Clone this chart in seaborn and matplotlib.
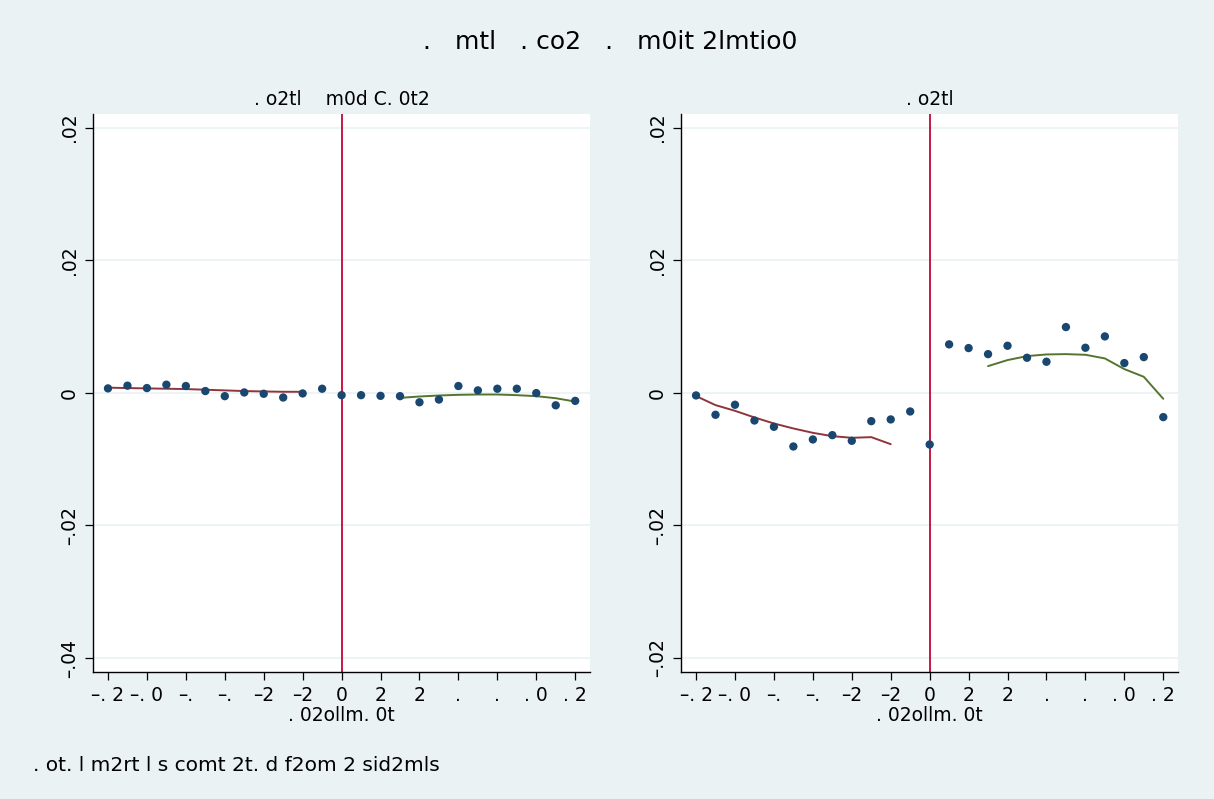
import numpy as np
import pandas as pd
import matplotlib.pyplot as plt
import seaborn as sns

sns.set_theme(style="white")
plt.rcParams["font.family"] = ["DejaVu Sans"]
plt.rcParams.update({"text.color": "black", "axes.labelcolor": "black",
                     "xtick.color": "black", "ytick.color": "black"})

BG = "#eaf2f3"
NAVY = "#1a476f"
CRAN = "#c10534"
MAROON = "#90353b"
GREEN = "#55752f"

# ── data ───────────────────────────────────────────────────
bins = list(range(-12, 13))
left_vals = [0.00066, 0.00107, 0.00071, 0.00122, 0.00102, 0.00026, -0.00051,
             0.00005, -0.00015, -0.00071, -0.00010, 0.00061, -0.00036,
             -0.00036, -0.00046, -0.00051, -0.00143, -0.00102, 0.00102,
             0.00036, 0.00061, 0.00061, -0.00005, -0.00189, -0.00122]
right_vals = [-0.00040, -0.00332, -0.00181, -0.00418, -0.00513, -0.00810,
              -0.00704, -0.00639, -0.00724, -0.00428, -0.00402, -0.00282,
              -0.00780, 0.00730, 0.00674, 0.00583, 0.00709, 0.00528, 0.00468,
              0.00991, 0.00679, 0.00850, 0.00448, 0.00538, -0.00367]

fit_lo_x = list(range(-12, -1))
fit_hi_x = list(range(3, 13))
left_fit_lo = [0.00077, 0.00071, 0.00066, 0.00061, 0.00056, 0.00046, 0.00036,
               0.00026, 0.00020, 0.00015, 0.00015]
left_fit_hi = [-0.00077, -0.00056, -0.00041, -0.00031, -0.00026, -0.00026,
               -0.00036, -0.00051, -0.00082, -0.00133]
right_fit_lo = [-0.00050, -0.00186, -0.00272, -0.00372, -0.00463, -0.00538,
                -0.00604, -0.00654, -0.00679, -0.00669, -0.00775]
right_fit_hi = [0.00402, 0.00493, 0.00553, 0.00578, 0.00583, 0.00573, 0.00518,
                0.00357, 0.00241, -0.00091]

xtick_pos = list(range(-12, 13, 2))
xtick_labels = ["–. 2", "–. 0", "–.", "–.", "–2", "–2", "0", "2", "2",
                ".", ".", ". 0", ". 2"]
ytick_pos = [0.04, 0.02, 0.0, -0.02, -0.04]
left_ylabels = [".02", ".02", "0", "–.02", "–.04"]
right_ylabels = [".02", ".02", "0", "–.02", "–.02"]

panels = [
    (". o2tl    m0d C. 0t2", left_vals, left_fit_lo, left_fit_hi, left_ylabels),
    (". o2tl", right_vals, right_fit_lo, right_fit_hi, right_ylabels),
]

fig = plt.figure(figsize=(12.14, 7.99), dpi=100, facecolor=BG)
axes = [fig.add_axes([0.0766, 0.159, 0.4094, 0.698]),
        fig.add_axes([0.561, 0.159, 0.4094, 0.698])]

for ax, (sub, vals, flo, fhi, ylabs) in zip(axes, panels):
    ax.set_facecolor("white")
    for y in ytick_pos:
        ax.axhline(y, color=BG, lw=1.2, zorder=0)
    ax.axvline(0, color=CRAN, lw=1.3, zorder=1)
    sns.lineplot(x=fit_lo_x, y=flo, ax=ax, color=MAROON, lw=1.4, zorder=2)
    sns.lineplot(x=fit_hi_x, y=fhi, ax=ax, color=GREEN, lw=1.4, zorder=2)
    sns.scatterplot(x=bins, y=vals, ax=ax, color=NAVY, s=36,
                    edgecolor="none", zorder=3)
    ax.set_xlim(-12.77, 12.76)
    ax.set_ylim(-0.0421, 0.042)
    ax.set_xticks(xtick_pos)
    ax.set_xticklabels(xtick_labels, fontsize=13.5)
    ax.set_yticks(ytick_pos)
    ax.set_yticklabels(ylabs, fontsize=13.5, rotation=90, va="center")
    ax.tick_params(axis="both", direction="out", length=6, width=0.9,
                   color="black", pad=4, bottom=True, left=True)
    for side in ["top", "right"]:
        ax.spines[side].set_visible(False)
    for side in ["left", "bottom"]:
        ax.spines[side].set_color("black")
        ax.spines[side].set_linewidth(1.0)
    ax.set_xlabel(". 02ollm. 0t", fontsize=13.5, labelpad=1)
    ax.set_ylabel("")
    ax.set_title(sub, fontsize=13.5, pad=7)

fig.text(0.503, 0.947, ".   mtl   . co2   .   m0it 2lmtio0", ha="center",
         va="center", fontsize=18)
fig.text(0.027, 0.042, ". ot. l m2rt l s comt 2t. d f2om 2 sid2mls",
         ha="left", va="center", fontsize=14.5)

fig.savefig("out.png", dpi=100, facecolor=BG)
